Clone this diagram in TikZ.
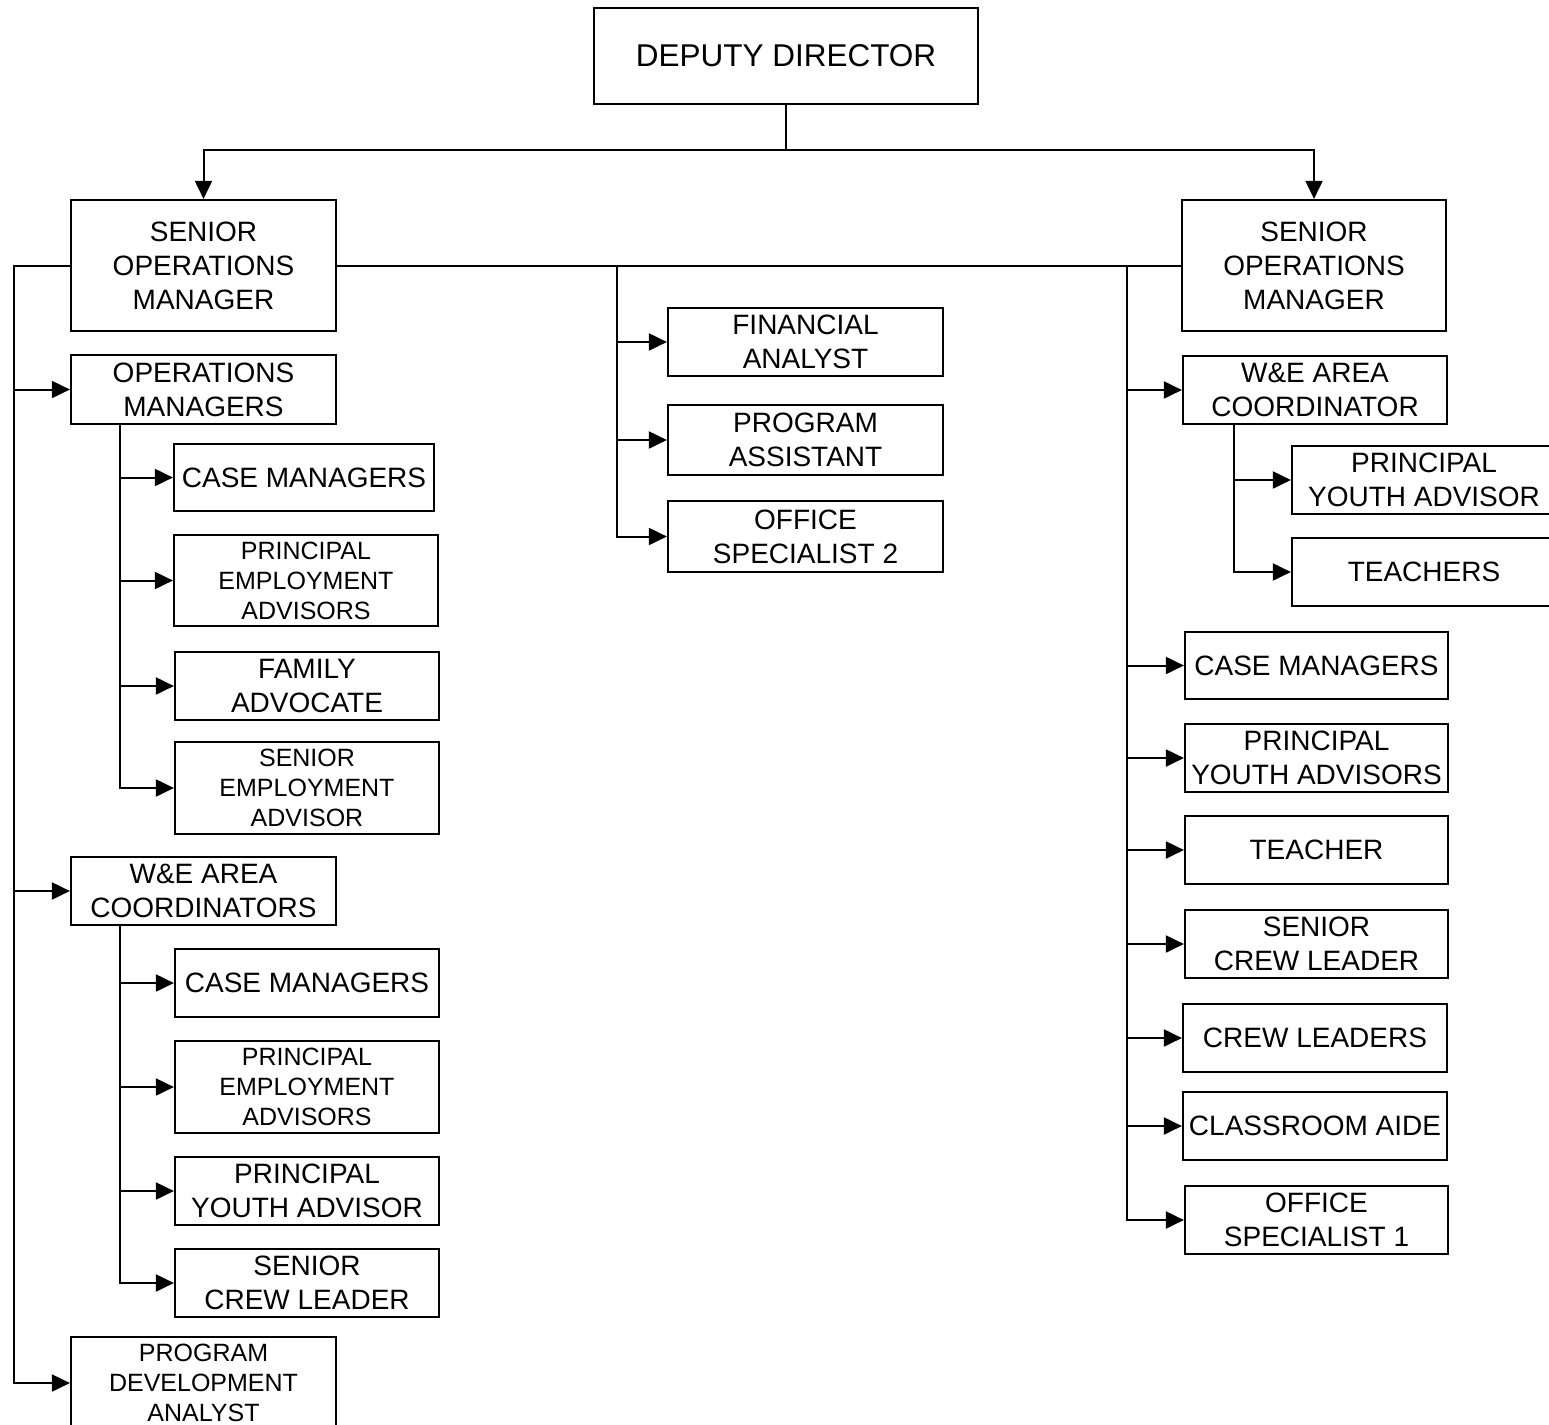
\documentclass[tikz,border=0pt]{standalone}
\usepackage{fontspec}
\setmainfont{Liberation Sans}
\usetikzlibrary{arrows.meta}
\begin{document}
\begin{tikzpicture}[x=1pt,y=-1pt,
  box/.style={draw, line width=2.2pt, align=center, inner sep=0pt},
  big/.style={font=\fontsize{28}{34}\selectfont},
  small/.style={font=\fontsize{25}{30}\selectfont},
  head/.style={font=\fontsize{31.5}{38}\selectfont},
  conn/.style={line width=2pt},
  arr/.style={conn, -{Triangle[length=18pt,width=17pt]}}]
\useasboundingbox (0,0) rectangle (1549,1424);
\fill[white] (0,0) rectangle (1549,1424);

% top level
\node[box,head,minimum width=384pt,minimum height=96pt] (dd) at (786,56) {DEPUTY DIRECTOR};
\node[box,big,minimum width=265pt,minimum height=131pt] (somL) at (203.5,265.5) {SENIOR\\OPERATIONS\\MANAGER};
\node[box,big,minimum width=264pt,minimum height=131pt] (somR) at (1314,265.5) {SENIOR\\OPERATIONS\\MANAGER};

% left branch
\node[box,big,minimum width=265pt,minimum height=69pt] (opm) at (203.5,389.5) {OPERATIONS\\MANAGERS};
\node[box,big,minimum width=260pt,minimum height=67pt] (lcm1) at (304,477.5) {CASE MANAGERS};
\node[box,small,minimum width=264pt,minimum height=91pt] (lpea1) at (306,580.5) {PRINCIPAL\\EMPLOYMENT\\ADVISORS};
\node[box,big,minimum width=264pt,minimum height=68pt] (lfa) at (307,686) {FAMILY\\ADVOCATE};
\node[box,small,minimum width=264pt,minimum height=92pt] (lsea) at (307,788) {SENIOR\\EMPLOYMENT\\ADVISOR};
\node[box,big,minimum width=265pt,minimum height=68pt] (wec) at (203.5,891) {W\&E AREA\\COORDINATORS};
\node[box,big,minimum width=264pt,minimum height=68pt] (lcm2) at (307,983) {CASE MANAGERS};
\node[box,small,minimum width=264pt,minimum height=92pt] (lpea2) at (307,1087) {PRINCIPAL\\EMPLOYMENT\\ADVISORS};
\node[box,big,minimum width=264pt,minimum height=68pt] (lpya) at (307,1191) {PRINCIPAL\\YOUTH ADVISOR};
\node[box,big,minimum width=264pt,minimum height=68pt] (lscl) at (307,1283) {SENIOR\\CREW LEADER};
\node[box,small,minimum width=265pt,minimum height=92pt] (pda) at (203.5,1383) {PROGRAM\\DEVELOPMENT\\ANALYST};

% middle branch
\node[box,big,minimum width=275pt,minimum height=68pt] (fa) at (805.5,342) {FINANCIAL\\ANALYST};
\node[box,big,minimum width=275pt,minimum height=70pt] (pa) at (805.5,440) {PROGRAM\\ASSISTANT};
\node[box,big,minimum width=275pt,minimum height=71pt] (os2) at (805.5,536.5) {OFFICE\\SPECIALIST 2};

% right branch
\node[box,big,minimum width=264pt,minimum height=68pt] (rwec) at (1315,390) {W\&E AREA\\COORDINATOR};
\node[box,big,minimum width=264pt,minimum height=68pt] (rpya1) at (1424,480) {PRINCIPAL\\YOUTH ADVISOR};
\node[box,big,minimum width=264pt,minimum height=68pt] (rteach) at (1424,572) {TEACHERS};
\node[box,big,minimum width=263pt,minimum height=67pt] (rcm) at (1316.5,665.5) {CASE MANAGERS};
\node[box,big,minimum width=263pt,minimum height=68pt] (rpya2) at (1316.5,758) {PRINCIPAL\\YOUTH ADVISORS};
\node[box,big,minimum width=263pt,minimum height=68pt] (rteacher) at (1316.5,850) {TEACHER};
\node[box,big,minimum width=263pt,minimum height=68pt] (rscl) at (1316.5,944) {SENIOR\\CREW LEADER};
\node[box,big,minimum width=264pt,minimum height=68pt] (rcl) at (1315,1038) {CREW LEADERS};
\node[box,big,minimum width=264pt,minimum height=68pt] (rca) at (1315,1126) {CLASSROOM AIDE};
\node[box,big,minimum width=263pt,minimum height=68pt] (ros1) at (1316.5,1220) {OFFICE\\SPECIALIST 1};

% trunk positions
\coordinate (bus) at (786,150);
\coordinate (lx) at (14,0);
\coordinate (ox) at (120,0);
\coordinate (mx) at (617,0);
\coordinate (rx) at (1127,0);
\coordinate (sx) at (1234,0);

% deputy director to senior operations managers
\draw[conn] (dd.south) -- (bus);
\draw[arr] (bus) -| (somL.north);
\draw[arr] (bus) -| (somR.north);

% link between the two senior managers
\draw[conn] (somL.east) -- (somR.west);

% left trunk
\draw[arr] (somL.west) -- (lx |- somL.west) |- (opm.west);
\draw[arr] (lx |- somL.west) |- (wec.west);
\draw[arr] (lx |- somL.west) |- (pda.west);

\draw[arr] (ox |- opm.south) |- (lcm1.west);
\draw[arr] (ox |- opm.south) |- (lpea1.west);
\draw[arr] (ox |- opm.south) |- (lfa.west);
\draw[arr] (ox |- opm.south) |- (lsea.west);

\draw[arr] (ox |- wec.south) |- (lcm2.west);
\draw[arr] (ox |- wec.south) |- (lpea2.west);
\draw[arr] (ox |- wec.south) |- (lpya.west);
\draw[arr] (ox |- wec.south) |- (lscl.west);

% middle trunk
\draw[arr] (mx |- somL.east) |- (fa.west);
\draw[arr] (mx |- somL.east) |- (pa.west);
\draw[arr] (mx |- somL.east) |- (os2.west);

% right trunk
\draw[arr] (rx |- somR.west) |- (rwec.west);
\draw[arr] (rx |- somR.west) |- (rcm.west);
\draw[arr] (rx |- somR.west) |- (rpya2.west);
\draw[arr] (rx |- somR.west) |- (rteacher.west);
\draw[arr] (rx |- somR.west) |- (rscl.west);
\draw[arr] (rx |- somR.west) |- (rcl.west);
\draw[arr] (rx |- somR.west) |- (rca.west);
\draw[arr] (rx |- somR.west) |- (ros1.west);

\draw[arr] (sx |- rwec.south) |- (rpya1.west);
\draw[arr] (sx |- rwec.south) |- (rteach.west);
\end{tikzpicture}
\end{document}
